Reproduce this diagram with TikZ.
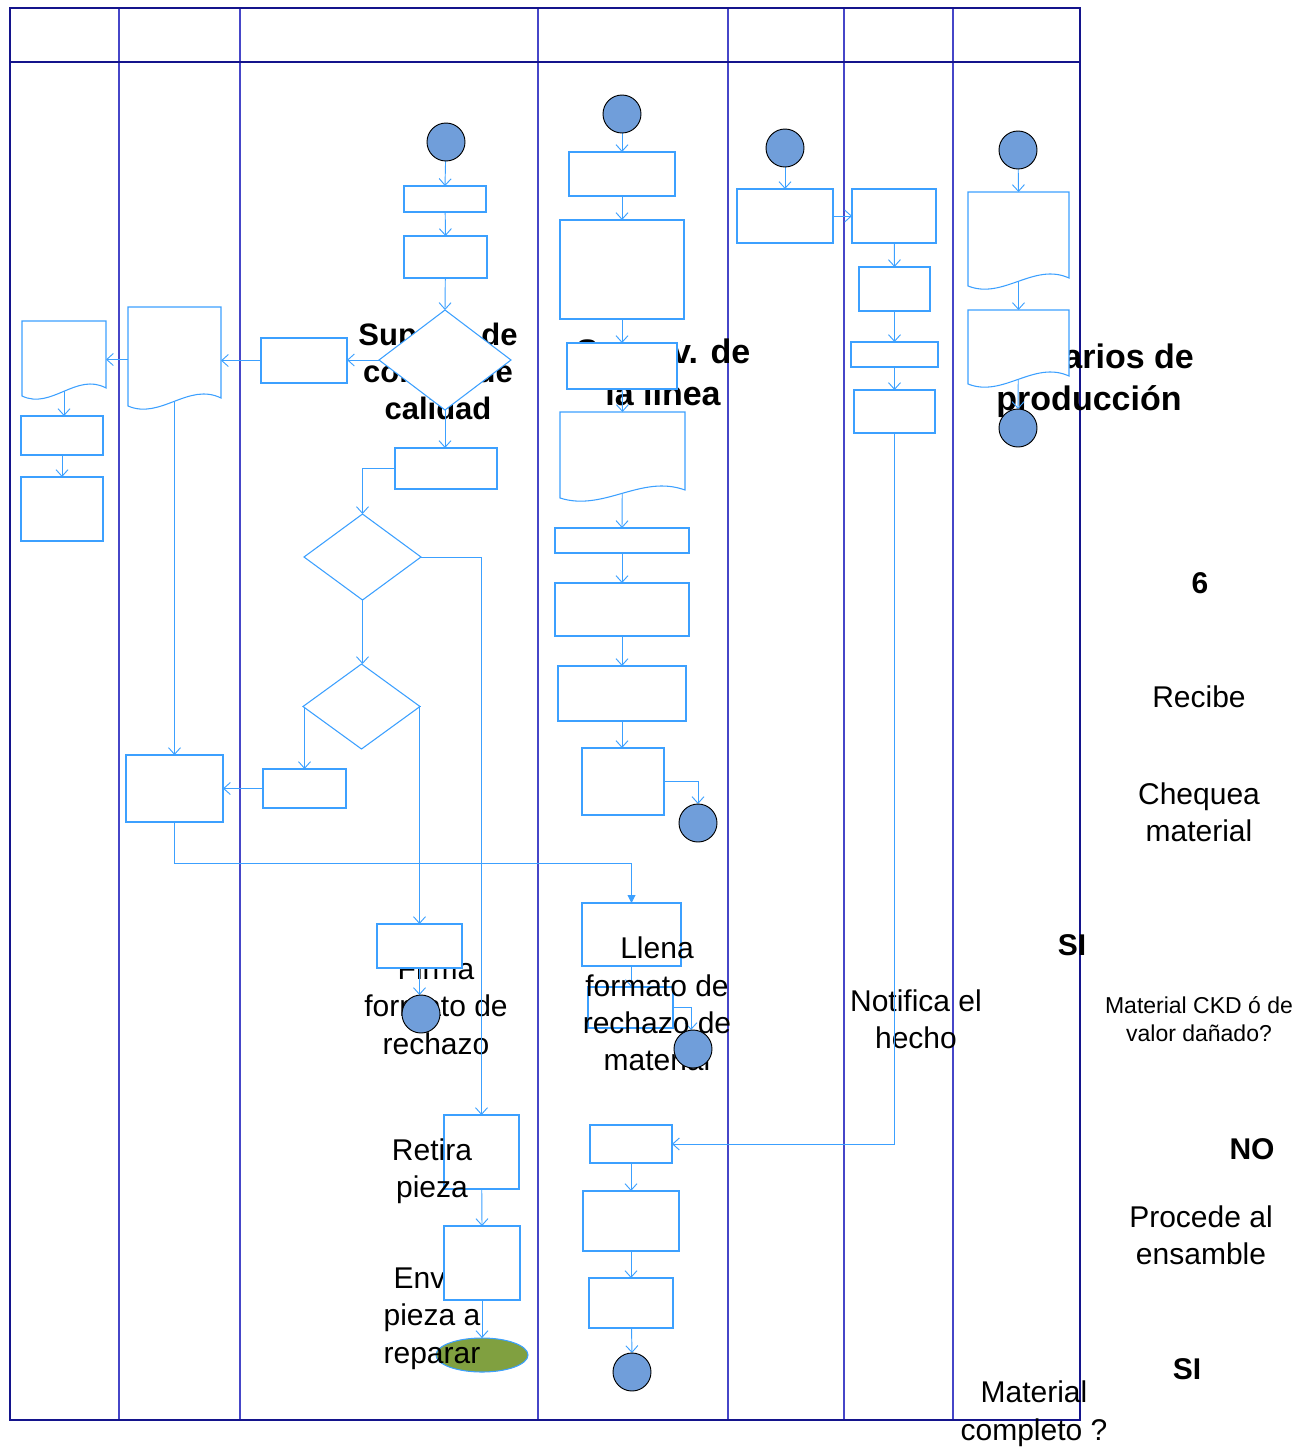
\documentclass[tikz,border=0pt]{standalone}
\usepackage{fontspec}
\setmainfont{Liberation Sans}
\usetikzlibrary{shapes.geometric,arrows.meta,calc}

\definecolor{frameblue}{RGB}{20,20,140}
\definecolor{laneblue}{RGB}{70,70,200}
\definecolor{flowblue}{RGB}{60,160,255}
\definecolor{dotfill}{RGB}{112,158,218}
\definecolor{endgreen}{RGB}{128,160,64}

\pgfdeclarelayer{back}
\pgfdeclarelayer{wires}
\pgfsetlayers{back,wires,main}

\tikzset{
  box/.style={rectangle, draw=flowblue, fill=white, line width=0.8pt, inner sep=0pt, outer sep=0pt},
  holder/.style={rectangle, inner sep=0pt, outer sep=0pt},
  docline/.style={draw=flowblue, fill=white, line width=0.8pt},
  decide/.style={diamond, draw=flowblue, fill=white, line width=0.8pt, inner sep=0pt, outer sep=0pt},
  dot/.style={circle, draw=black, fill=dotfill, line width=0.7pt, inner sep=0pt, outer sep=0pt, minimum size=28.5pt},
  finish/.style={ellipse, draw=flowblue, fill=endgreen, line width=0.8pt, inner sep=0pt, outer sep=0pt, minimum width=69pt, minimum height=25.5pt},
  conn/.style={draw=flowblue, line width=0.7pt, -{Straight Barb[length=5pt,width=9pt]}},
  connfill/.style={draw=flowblue, line width=0.7pt, -{Triangle[length=6pt,width=6pt]}},
  lbl/.style={align=center, inner sep=0pt, font=\fontsize{22.5}{28}\selectfont},
  lblsmall/.style={align=center, inner sep=0pt, font=\fontsize{17.25}{21}\selectfont},
  tag/.style={align=center, inner sep=0pt, font=\bfseries\fontsize{22.5}{28}\selectfont},
  lanehead/.style={align=center, inner sep=0pt, font=\bfseries\fontsize{23.25}{27.75}\selectfont},
  laneheadbig/.style={align=center, inner sep=0pt, font=\bfseries\fontsize{25.5}{31.5}\selectfont},
}

% rectangle step given by its corners (x1,y1)-(x2,y2)
\newcommand\flowrect[5]{%
  \node[box, minimum width={(#4-#2)*0.75pt}, minimum height={(#5-#3)*0.75pt}] (#1) at ({(#2+#4)/2},{(#3+#5)/2}) {};}
% document step with a wavy lower edge
\newcommand\flowdoc[5]{%
  \node[holder, minimum width={(#4-#2)*0.75pt}, minimum height={(#5-#3)*0.75pt}] (#1) at ({(#2+#4)/2},{(#3+#5)/2}) {};
  \draw[docline] (#1.north west) -- (#1.north east) -- ($(#1.south east)+(0,-14)$)
    .. controls ($(#1.south east)!0.35!(#1.south west)+(0,-30)$) and ($(#1.south east)!0.65!(#1.south west)+(0,8)$)
    .. ($(#1.south west)+(0,-6)$) -- cycle;}
% decision step given by its bounding corners
\newcommand\flowdiamond[5]{%
  \node[decide, minimum width={(#4-#2)*0.75pt}, minimum height={(#5-#3)*0.75pt}] (#1) at ({(#2+#4)/2},{(#3+#5)/2}) {};}

\begin{document}
\begin{tikzpicture}[x=0.75pt,y=-0.75pt]
\useasboundingbox (0,0) rectangle (1301,1447);

% ---------- swimlane frame and lane labels ----------
\begin{pgfonlayer}{back}
  \foreach \x in {119,240,538,728,844,953}
    \draw[laneblue, line width=0.8pt] (\x,8) -- (\x,1420);
  \draw[frameblue, line width=2.2pt] (10,62) -- (1080,62);
  \draw[frameblue, line width=1.8pt] (10,8) rectangle (1080,1420);

  \node[lanehead] (hcal) at (438,371) {Superv. de\\control de\\calidad};
  \node[laneheadbig] (hlin) at (663,372) {Superv. de\\la línea};
  \node[laneheadbig] (hope) at (1089,381) {Operarios de\\producción};

  \node[tag] (t6) at (1200,583) {6};
  \node[lbl] (trec) at (1199,697) {Recibe};
  \node[lbl] (tchk) at (1199,812) {Chequea\\material};
  \node[tag] (tsi1) at (1072,945) {SI};
  \node[lblsmall] (tckd) at (1199,1019) {Material CKD ó de\\valor dañado?};
  \node[tag] (tno) at (1252,1149) {NO};
  \node[lbl] (tens) at (1201,1235) {Procede al\\ensamble};
  \node[tag] (tsi2) at (1187,1369) {SI};
  \node[lbl, font=\fontsize{22.5}{28.5}\selectfont] (tcomp) at (1034,1414) {Material\\completo ?};

  \node[lbl] (tfirma) at (436,1006) {Firma\\formato de\\rechazo};
  \node[lbl] (tnot) at (916,1019) {Notifica el\\hecho};
\end{pgfonlayer}

% ---------- quality control lane ----------
\node[dot] (c1) at (446,142) {};
\flowrect{r1}{404}{186}{486}{212}
\flowrect{r2}{404}{236}{487}{278}
\flowdiamond{d1}{379}{310}{511}{410}
\flowrect{r3}{261}{338}{347}{383}
\flowrect{r4}{395}{448}{497}{489}
\flowdiamond{d2}{304}{514}{421}{600}
\flowdiamond{d3}{303}{664}{420}{749}
\flowrect{r5}{263}{769}{346}{808}
\flowrect{r6}{377}{924}{462}{968}
\node[dot] (c2) at (421,1014) {};
\flowrect{r7}{444}{1115}{519}{1189}
\node[lbl] (tret) at (432,1171) {Retira\\pieza};
\node[finish] (e1) at (482,1355) {};
\node[lbl] (tenv) at (432,1318) {Envía\\pieza a\\reparar};
\flowrect{r8}{444}{1226}{520}{1300}

% ---------- first two lanes ----------
\flowdoc{a1}{22}{321}{106}{402}
\flowrect{a2}{21}{416}{103}{455}
\flowrect{a3}{21}{477}{103}{541}
\flowdoc{b1}{128}{307}{221}{412}
\flowrect{b2}{126}{755}{223}{822}

% ---------- line supervisor lane ----------
\node[dot] (c3) at (622,114) {};
\flowrect{g1}{569}{152}{675}{196}
\flowrect{g2}{560}{220}{684}{319}
\flowrect{g3}{567}{343}{677}{389}
\flowdoc{g4}{560}{412}{685}{504}
\flowrect{g5}{555}{528}{689}{553}
\flowrect{g6}{555}{583}{689}{636}
\flowrect{g7}{558}{666}{686}{721}
\flowrect{g8}{582}{748}{664}{815}
\node[dot] (c4) at (698,823) {};
\flowrect{g9}{582}{903}{681}{966}
\flowrect{g10}{588}{987}{673}{1028}
\node[lbl] (tllena) at (657,1004) {Llena\\formato de\\rechazo de\\material};
\node[dot] (c5) at (693,1049) {};
\flowrect{g11}{590}{1125}{672}{1163}
\flowrect{g12}{583}{1191}{679}{1251}
\flowrect{g13}{589}{1278}{673}{1328}
\node[dot] (c6) at (632,1372) {};

% ---------- lanes five and six ----------
\node[dot] (c7) at (785,148) {};
\flowrect{h1}{737}{189}{833}{243}
\flowrect{q1}{852}{189}{936}{243}
\flowrect{q2}{859}{267}{930}{311}
\flowrect{q3}{851}{342}{938}{367}
\flowrect{q4}{854}{390}{935}{433}

% ---------- production operators lane ----------
\node[dot] (c8) at (1018,150) {};
\flowdoc{k1}{968}{192}{1069}{292}
\flowdoc{k2}{968}{310}{1069}{390}
\node[dot] (c9) at (1018,428) {};

% ---------- connectors ----------
\begin{pgfonlayer}{wires}
  \draw[conn] (c1) -- (r1.north);
  \draw[conn] (r1) -- (r2.north);
  \draw[conn] (r2) -- (d1.north);
  \draw[conn] (d1.west) -- (r3.east |- d1.west);
  \draw[conn] (r3.west) -- (b1.east |- r3.west);
  \draw[conn] (b1.west) -- (a1.east |- b1.west);
  \draw[conn] (a1.center) -- (a2.north -| a1.center);
  \draw[conn] (a2) -- (a3.north);
  \draw[conn] (d1.south) -- (r4.north -| d1.south);
  \draw[conn] (r4.west) -| (d2.north);
  \draw[conn] (d2.south) -- (d3.north -| d2.south);
  \draw[conn] (d2.east) -| (r7.north);
  \draw[conn] (d3.west) -| (r5.north);
  \draw[conn] (d3.east) -| (r6.north);
  \draw[conn] (r5.west) -- (b2.east |- r5.west);
  \draw[conn] (b1.center) -- (b2.north);
  \draw[connfill] (b2.south) -- ++(0,41) -| (g9.north);
  \draw[conn] (r6.south) -- (c2.north -| r6.south);
  \draw[conn] (r7) -- (r8.north);
  \draw[conn] (r8) -- (e1.north);

  \draw[conn] (c3) -- (g1.north);
  \draw[conn] (g1) -- (g2.north);
  \draw[conn] (g2) -- (g3.north);
  \draw[conn] (g3) -- (g4.north);
  \draw[conn] (g4.center) -- (g5.north);
  \draw[conn] (g5) -- (g6.north);
  \draw[conn] (g6) -- (g7.north);
  \draw[conn] (g7) -- (g8.north -| g7.south);
  \draw[conn] (g8.east) -| (c4.north);
  \draw[conn] (g9) -- (g10.north -| g9.south);
  \draw[conn] (g10.east) -| ($(c5.north)+(-2,0)$);
  \draw[conn] (q4.south) |- (g11.east);
  \draw[conn] (g11) -- (g12.north);
  \draw[conn] (g12) -- (g13.north);
  \draw[conn] (g13) -- (c6.north);

  \draw[conn] (c7) -- (h1.north);
  \draw[conn] (h1.east) -- (q1.west);
  \draw[conn] (q1) -- (q2.north);
  \draw[conn] (q2) -- (q3.north);
  \draw[conn] (q3) -- (q4.north);

  \draw[conn] (c8) -- (k1.north);
  \draw[conn] (k1.center) -- (k2.north);
  \draw[conn] (k2.center) -- (c9.north);
\end{pgfonlayer}
\end{tikzpicture}
\end{document}
